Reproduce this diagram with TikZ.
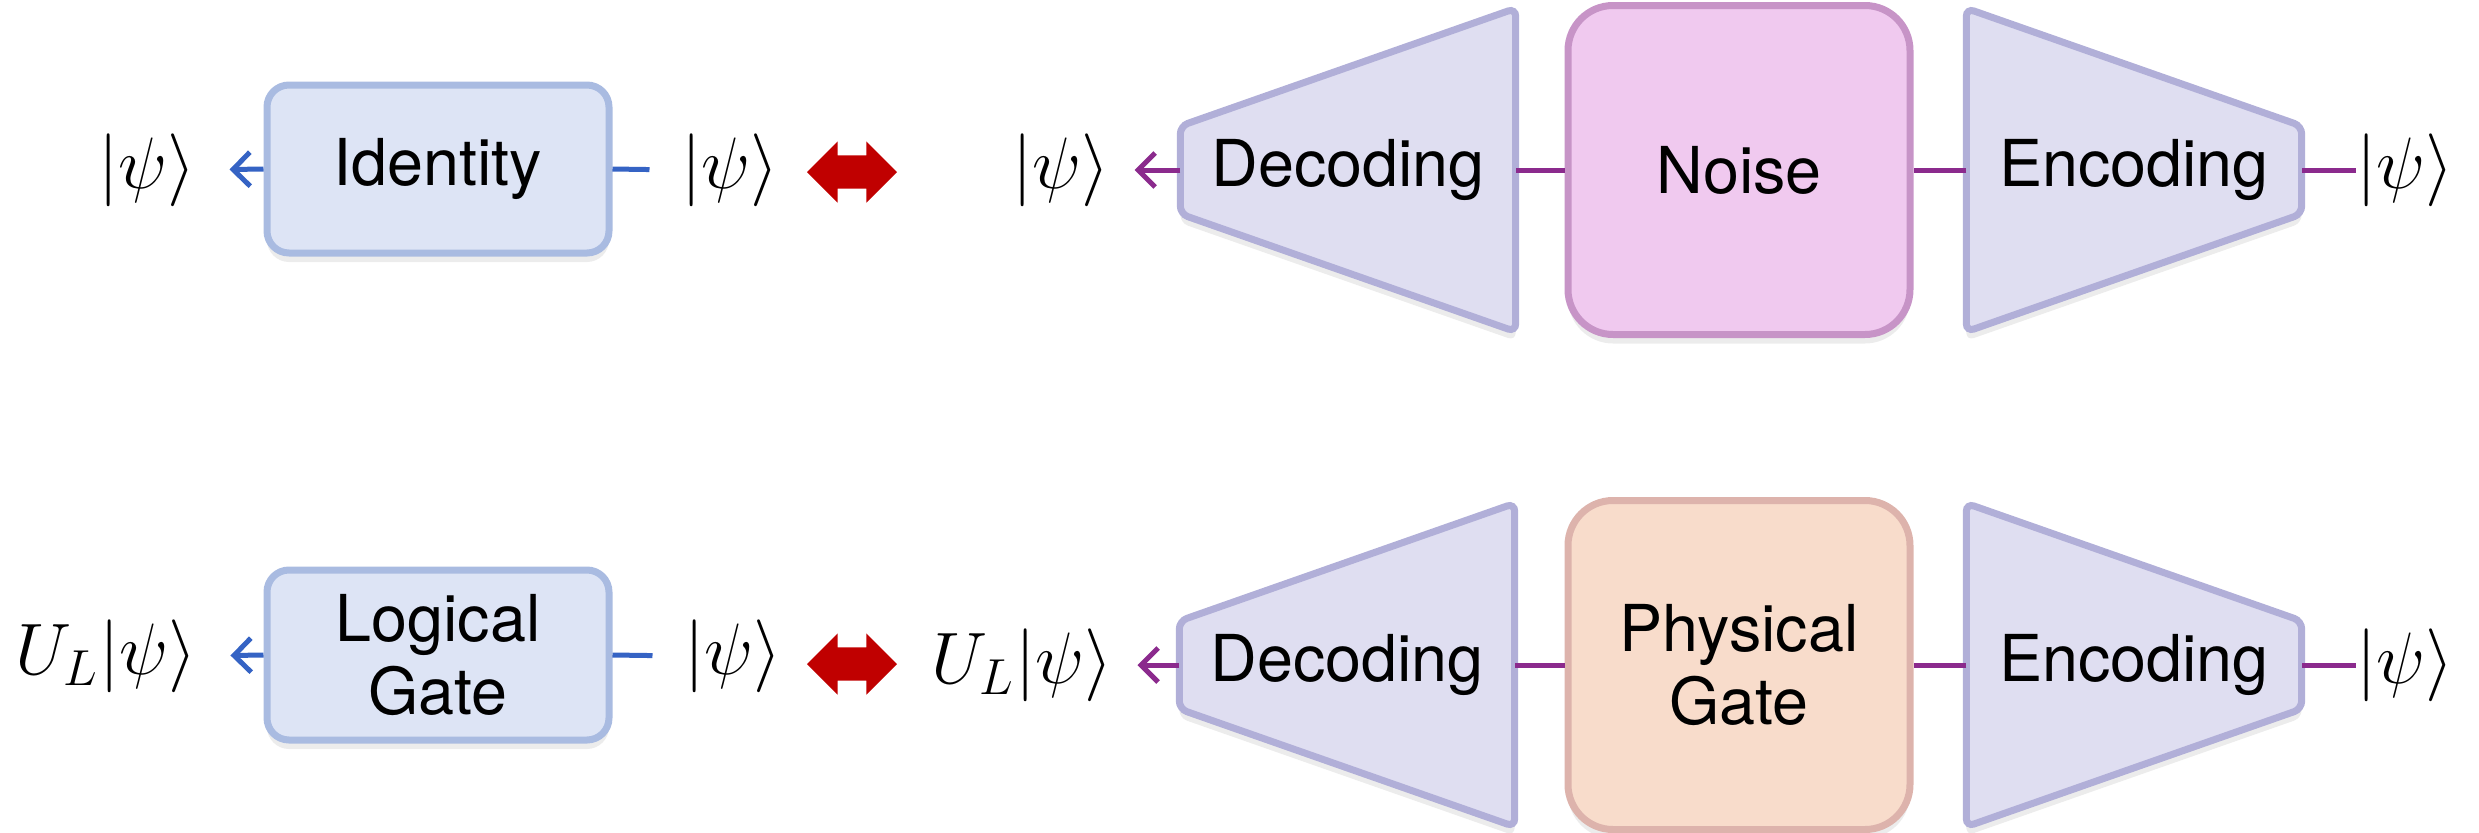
\documentclass[tikz,border=0pt]{standalone}
\usepackage{amsmath}
\usepackage{fontspec}
\setmainfont{TeX Gyre Heros}
\usetikzlibrary{arrows.meta,positioning,calc,backgrounds,shapes.arrows,shadows}
\definecolor{gatefill}{HTML}{DDE4F5}
\definecolor{gateline}{HTML}{A9BBE1}
\definecolor{codefill}{HTML}{DFDEF1}
\definecolor{codeline}{HTML}{B1AFD8}
\definecolor{noisefill}{HTML}{F0C9EF}
\definecolor{noiseline}{HTML}{C794C7}
\definecolor{physfill}{HTML}{F8DCCB}
\definecolor{physline}{HTML}{DDB3AC}
\definecolor{wireblue}{HTML}{3563C4}
\definecolor{wirepurple}{HTML}{8B2A8D}
\definecolor{eqred}{HTML}{C00000}
\newcommand{\lblfont}{\fontsize{18.4}{21}\selectfont}

\begin{document}
\begin{tikzpicture}[x=0.1mm,y=0.1mm,
  >={Straight Barb[length=1.7mm,width=3.4mm]},
  shade/.style={drop shadow={shadow xshift=0mm, shadow yshift=-0.9mm, opacity=0.15}},
  gbox/.style={draw=gateline, fill=gatefill, line width=0.7mm, rounded corners=2.2mm,
    minimum width=34.2mm, minimum height=16.8mm, align=center, font=\lblfont, shade},
  chan/.style={line width=0.7mm, rounded corners=4.5mm, minimum width=34.2mm,
    minimum height=32.9mm, align=center, font=\lblfont, shade},
  noisebox/.style={chan, draw=noiseline, fill=noisefill},
  physbox/.style={chan, draw=physline, fill=physfill},
  coder/.style={minimum width=33.4mm, minimum height=32.2mm, inner sep=0pt, font=\lblfont},
  trap/.style={fill=codefill, draw=codeline, line width=0.7mm, rounded corners=0.8mm, shade},
  ket/.style={font=\huge, inner sep=0pt},
  bw/.style={wireblue, line width=0.5mm},
  pw/.style={wirepurple, line width=0.5mm},
  equivarr/.style={double arrow, fill=eqred, minimum height=9mm, inner sep=1.6mm,
    double arrow head extend=1.4mm},
]
\useasboundingbox (0,0) rectangle (2479,832);
% top row
\node[ket]      (psiL1) at (147,662)  {$|\psi\rangle$};
\node[gbox]     (id)    at (438,663)  {Identity};
\node[ket]      (psiR1) at (730,662)  {$|\psi\rangle$};
\node[equivarr] (eq1)   at (852,660)  {};
\node[ket]      (psiL2) at (1061,662) {$|\psi\rangle$};
\node[coder]    (dec1)  at (1348,662) {Decoding};
\node[noisebox] (nz)    at (1739,662) {Noise};
\node[coder]    (enc1)  at (2134,662) {Encoding};
\node[ket]      (psiR2) at (2405,662) {$|\psi\rangle$};
% bottom row
\node[ket]      (psiL3) at (106,176)  {$U_L|\psi\rangle$};
\node[gbox, minimum height=17mm] (lg) at (438,177) {Logical\\Gate};
\node[ket]      (psiR3) at (733,176)  {$|\psi\rangle$};
\node[equivarr] (eq2)   at (852,168)  {};
\node[ket]      (psiL4) at (1022,167) {$U_L|\psi\rangle$};
\node[coder]    (dec2)  at (1347,167) {Decoding};
\node[physbox]  (pg)    at (1739,167) {Physical\\Gate};
\node[coder]    (enc2)  at (2134,167) {Encoding};
\node[ket]      (psiR4) at (2405,167) {$|\psi\rangle$};
\begin{scope}[on background layer]
\path[trap] (dec1.north east) -- (dec1.south east) -- ($(dec1.west)+(0,-4.4mm)$) -- ($(dec1.west)+(0,4.4mm)$) -- cycle;
\path[trap] (enc1.north west) -- (enc1.south west) -- ($(enc1.east)+(0,-4.4mm)$) -- ($(enc1.east)+(0,4.4mm)$) -- cycle;
\path[trap] (dec2.north east) -- (dec2.south east) -- ($(dec2.west)+(0,-4.4mm)$) -- ($(dec2.west)+(0,4.4mm)$) -- cycle;
\path[trap] (enc2.north west) -- (enc2.south west) -- ($(enc2.east)+(0,-4.4mm)$) -- ($(enc2.east)+(0,4.4mm)$) -- cycle;
\end{scope}
\draw[bw,->,shorten >=3.3mm] (id.west) -- (psiL1.east);
\draw[bw,shorten >=3.1mm] (id.east) -- (psiR1.west);
\draw[bw,->,shorten >=3.3mm] (lg.west) -- (psiL3.east);
\draw[bw,shorten >=3.1mm] (lg.east) -- (psiR3.west);
\draw[pw,->,shorten >=2.4mm] (dec1.west) -- (psiL2.east);
\draw[pw] (nz.west) -- (dec1.east);
\draw[pw] (enc1.west) -- (nz.east);
\draw[pw] (psiR2.west) -- (enc1.east);
\draw[pw,->,shorten >=2.4mm] (dec2.west) -- (psiL4.east);
\draw[pw] (pg.west) -- (dec2.east);
\draw[pw] (enc2.west) -- (pg.east);
\draw[pw] (psiR4.west) -- (enc2.east);
\end{tikzpicture}
\end{document}
